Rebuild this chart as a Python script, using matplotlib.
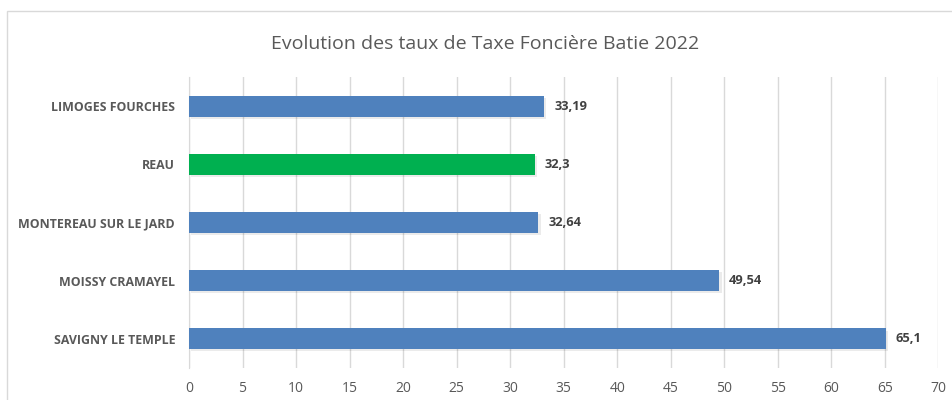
import matplotlib
matplotlib.use("Agg")
import matplotlib.pyplot as plt
import matplotlib.patheffects as pe
from matplotlib.patches import Rectangle

categories = ["SAVIGNY LE TEMPLE", "MOISSY CRAMAYEL", "MONTEREAU SUR LE JARD", "REAU", "LIMOGES FOURCHES"]
values = [65.1, 49.54, 32.64, 32.3, 33.19]
value_labels = ["65,1", "49,54", "32,64", "32,3", "33,19"]
colors = ["#4F81BD", "#4F81BD", "#4F81BD", "#00B050", "#4F81BD"]
xticks = list(range(0, 75, 5))
title = "Evolution des taux de Taxe Foncière Batie 2022"

plt.rcParams['font.family'] = ['Open Sans', 'DejaVu Sans']

fig = plt.figure(figsize=(9.52, 4.0), dpi=100)
fig.patch.set_facecolor("white")
ax = fig.add_axes([189/952, 1-368/400, (938.5-189)/952, (368-77)/400])

shadow = [pe.SimplePatchShadow(offset=(1.5, -1.5), shadow_rgbFace="#000000", alpha=0.08), pe.Normal()]
bars = ax.barh(range(len(categories)), values, height=0.36, color=colors, zorder=3)
for b in bars:
    b.set_path_effects(shadow)

for i, (v, lab) in enumerate(zip(values, value_labels)):
    ax.annotate(lab, xy=(v, i), xytext=(7, 0), textcoords="offset points",
                va="center", ha="left", fontsize=9.3, fontweight="bold", color="#404040")

ax.set_xlim(0, 70)
ax.set_ylim(-0.5, len(categories) - 0.5)
ax.set_xticks(xticks)
ax.set_xticklabels([str(t) for t in xticks], fontsize=10, color="#595959")
ax.set_yticks(range(len(categories)))
ax.set_yticklabels(categories, fontsize=8.9, fontweight="bold", color="#595959")
ax.tick_params(axis="x", length=0, pad=9)
ax.tick_params(axis="y", length=0, pad=10)
ax.grid(axis="x", color="#D9D9D9", linewidth=1, zorder=0)
for s in ["top", "right", "bottom"]:
    ax.spines[s].set_visible(False)
ax.spines["left"].set_color("#D9D9D9")
ax.set_facecolor("white")

fig.text(485/952, 1 - 44/400, title, ha="center", va="center", fontsize=14, color="#595959")

fig.patches.append(Rectangle((7/952, -0.05), 1.2, 1 - 11/400 + 0.05, transform=fig.transFigure,
                             fill=False, edgecolor="#D9D9D9", linewidth=1))

fig.savefig("out.png", dpi=100)
